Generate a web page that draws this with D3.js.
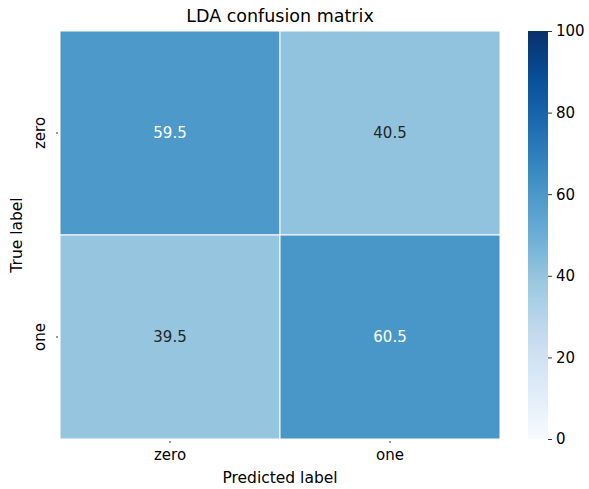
<!DOCTYPE html>
<html>
<head>
<meta charset="utf-8">
<script src="https://cdn.jsdelivr.net/npm/d3@7"></script>
<style>
  html, body { margin: 0; padding: 0; background: #fff; }
  svg text { font-family: "DejaVu Sans", sans-serif; }
</style>
</head>
<body>
<svg id="chart" width="589" height="489"></svg>
<script>
// Confusion matrix values (percent)
const trueLabels = ["zero", "one"];
const predLabels = ["zero", "one"];
const values = [
  [59.5, 40.5],
  [39.5, 60.5]
];
const colorbarTicks = [0, 20, 40, 60, 80, 100];
const title = "LDA confusion matrix";

// Blues colormap stops (ColorBrewer 9-class)
const bluesStops = ["#f7fbff", "#deebf7", "#c6dbef", "#9ecae1", "#6baed6",
                    "#4292c6", "#2171b5", "#08519c", "#08306b"];
const blues = d3.scaleLinear()
  .domain(d3.range(bluesStops.length).map(i => i / (bluesStops.length - 1)))
  .range(bluesStops)
  .interpolate(d3.interpolateRgb);
const color = v => blues(v / 100);

const svg = d3.select("#chart");
const plot = { left: 60, top: 31, right: 500, bottom: 439 };

const x = d3.scaleBand().domain(predLabels).range([plot.left, plot.right]);
const y = d3.scaleBand().domain(trueLabels).range([plot.top, plot.bottom]);

const cells = [];
trueLabels.forEach((t, i) => predLabels.forEach((p, j) => cells.push({ t, p, v: values[i][j] })));

// Heatmap cells
svg.append("g").selectAll("rect").data(cells).join("rect")
  .attr("x", d => x(d.p))
  .attr("y", d => y(d.t))
  .attr("width", x.bandwidth())
  .attr("height", y.bandwidth())
  .attr("fill", d => color(d.v))
  .attr("stroke", "#fff")
  .attr("stroke-width", 1);

// Value annotations
svg.append("g").selectAll("text").data(cells).join("text")
  .attr("x", d => x(d.p) + x.bandwidth() / 2)
  .attr("y", d => y(d.t) + y.bandwidth() / 2)
  .attr("text-anchor", "middle")
  .attr("dominant-baseline", "central")
  .attr("font-size", 15)
  .attr("fill", d => d.v > 50 ? "#fff" : "#262626")
  .text(d => d.v.toFixed(1));

// Axes
const xAxis = svg.append("g")
  .attr("transform", `translate(0,${plot.bottom})`)
  .call(d3.axisBottom(x).tickSize(4).tickPadding(6));
xAxis.select(".domain").remove();
xAxis.selectAll("text").attr("font-size", 15).attr("fill", "#000").attr("font-family", "DejaVu Sans");
xAxis.selectAll("line").attr("stroke", "#000").attr("stroke-width", 0.8).attr("y1", 2);

const yAxis = svg.append("g")
  .attr("transform", `translate(${plot.left},0)`)
  .call(d3.axisLeft(y).tickSize(4).tickPadding(6));
yAxis.select(".domain").remove();
yAxis.selectAll("line").attr("stroke", "#000").attr("stroke-width", 0.8).attr("x1", -2);
yAxis.selectAll("text")
  .attr("font-size", 15).attr("fill", "#000").attr("font-family", "DejaVu Sans")
  .attr("text-anchor", "middle")
  .attr("dy", null)
  .attr("x", null)
  .attr("transform", "translate(-15,0) rotate(-90)");

// Axis titles
svg.append("text")
  .attr("x", (plot.left + plot.right) / 2).attr("y", 483)
  .attr("text-anchor", "middle").attr("font-size", 15.5)
  .text("Predicted label");
svg.append("text")
  .attr("transform", `translate(22,${(plot.top + plot.bottom) / 2}) rotate(-90)`)
  .attr("text-anchor", "middle").attr("font-size", 15.5)
  .text("True label");

// Title
svg.append("text")
  .attr("x", (plot.left + plot.right) / 2).attr("y", 22)
  .attr("text-anchor", "middle").attr("font-size", 17.5)
  .text(title);

// Colorbar
const cb = { left: 528, width: 20, top: 31, bottom: 439 };
const cbScale = d3.scaleLinear().domain([0, 100]).range([cb.bottom, cb.top]);
const defs = svg.append("defs");
const grad = defs.append("linearGradient").attr("id", "cbgrad")
  .attr("x1", 0).attr("y1", 1).attr("x2", 0).attr("y2", 0);
d3.range(0, 101, 2).forEach(v => {
  grad.append("stop").attr("offset", `${v}%`).attr("stop-color", color(v));
});
svg.append("rect")
  .attr("x", cb.left).attr("y", cb.top)
  .attr("width", cb.width).attr("height", cb.bottom - cb.top)
  .attr("fill", "url(#cbgrad)");
const cbAxis = svg.append("g")
  .attr("transform", `translate(${cb.left + cb.width},0)`)
  .call(d3.axisRight(cbScale).tickValues(colorbarTicks).tickSize(4).tickPadding(4));
cbAxis.select(".domain").remove();
cbAxis.selectAll("line").attr("stroke", "#000").attr("stroke-width", 0.8);
cbAxis.selectAll("text").attr("font-size", 15).attr("fill", "#000").attr("font-family", "DejaVu Sans");
</script>
</body>
</html>
